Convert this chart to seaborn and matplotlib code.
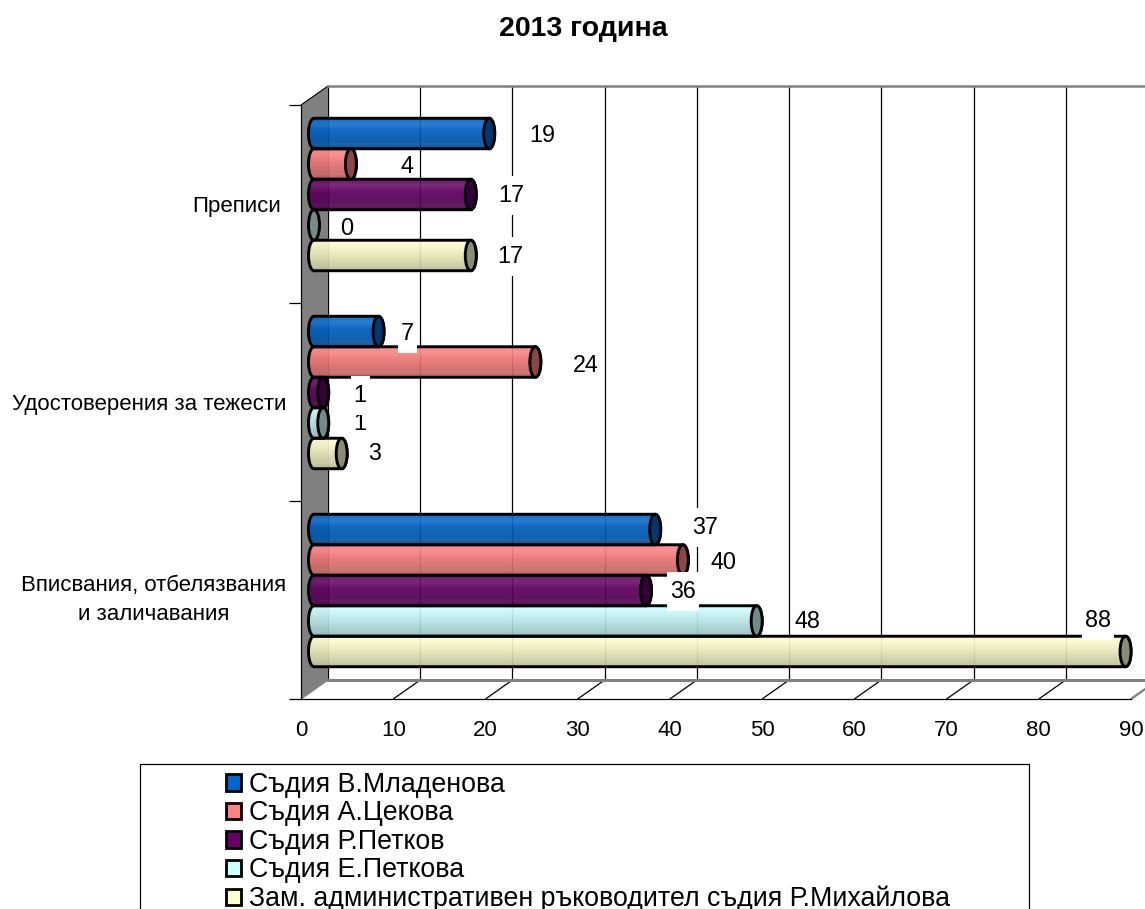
import numpy as np
import pandas as pd
import seaborn as sns
import matplotlib.pyplot as plt
from matplotlib.colors import to_rgb
from matplotlib.patches import Ellipse, PathPatch, Polygon, Rectangle
from matplotlib.path import Path

categories = ["Преписи", "Удостоверения за тежести", "Вписвания, отбелязвания\nи заличавания"]
judges = ["Съдия В.Младенова", "Съдия А.Цекова", "Съдия Р.Петков", "Съдия Е.Петкова",
          "Зам. административен ръководител съдия Р.Михайлова"]
mladenova = [19, 7, 37]
tsekova = [4, 24, 40]
r_petkov = [17, 1, 36]
e_petkova = [0, 1, 48]
mihaylova = [17, 3, 88]
colors = ["#0066CC", "#FF8080", "#660066", "#CCFFFF", "#FFFFCC"]
x_ticks = list(range(0, 100, 10))

# label shift from the bar end in pixels, one row per judge, one column per category
label_shift = [
    [(53, 2), (29, 2), (50, -2)],
    [(56, 2), (50, 3), (41, 2)],
    [(40, 1), (37, 3), (37, 1)],
    [(33, 4), (37, 1), (51, 1)],
    [(39, 1), (33, 0), (-28, -31)],
]
# these white label boxes sit behind the cylinders (judge, category)
labels_behind = [(1, 0), (3, 0), (3, 2)]

W, H = 1145, 909
FONT = ["Liberation Sans", "DejaVu Sans"]
PX_PER_UNIT = 830 / 90
CAP_RX = 5.5 / PX_PER_UNIT

sns.set_theme(style="white")
plt.rcParams["font.family"] = FONT


def px_axes(fig, left, top, right, bottom, zorder):
    ax = fig.add_axes([left / W, 1 - bottom / H, (right - left) / W, (bottom - top) / H], zorder=zorder)
    ax.patch.set_alpha(0)
    return ax


def label_box(x0, y0, width, height, mutation_size):
    """
    White box behind a data label, wider pad up and down than sideways (pixels).
    """
    l, r = x0 - 3, x0 + width + 3
    b, t = y0 - 8, y0 + height + 8
    return Path([(l, b), (r, b), (r, t), (l, t), (l, b)], closed=True)


def shading(color, n=60):
    """
    Vertical colour ramp for the cylinder body, light on top and darker below.
    """
    t = np.linspace(0, 1, n)
    rgb = np.array(to_rgb(color))
    shade = 1 - 0.27 * t ** 1.4
    glow = 0.09 * np.exp(-((t - 0.2) / 0.13) ** 2) + 0.05 * np.exp(-((t - 0.85) / 0.06) ** 2)
    img = np.zeros((n, 1, 4))
    for i in range(3):
        img[:, 0, i] = np.clip(rgb[i] * shade + glow * (1 - rgb[i] * shade), 0, 1)
    img[:, 0, 3] = 0.93
    return img


def draw_cylinder(ax, rect, color):
    w, y, h = rect.get_width(), rect.get_y(), rect.get_height()
    rect.set_facecolor("none")
    rect.set_edgecolor("none")
    ymid = y + h / 2
    if w > 0:
        theta = np.linspace(np.pi / 2, 3 * np.pi / 2, 30)
        left = np.column_stack([CAP_RX * np.cos(theta), ymid - h / 2 * np.sin(theta)])
        right = np.column_stack([w - CAP_RX * np.cos(theta), ymid + h / 2 * np.sin(theta)])
        verts = np.vstack([left, right, left[:1]])
        body = PathPatch(Path(verts, closed=True), facecolor="none", edgecolor="black", lw=2.1, zorder=3)
        ax.add_patch(body)
        im = ax.imshow(shading(color), extent=(-CAP_RX, w + CAP_RX, y + h, y), aspect="auto", zorder=2.9)
        im.set_clip_path(body)
    cap_color = tuple(c * 0.55 for c in to_rgb(color))
    ax.add_patch(Ellipse((w, ymid), 2 * CAP_RX, h, facecolor=cap_color, edgecolor="black", lw=2.1, zorder=3.1))


def main() -> None:
    df = pd.DataFrame({
        "category": categories * 5,
        "judge": [j for j in judges for _ in categories],
        "value": mladenova + tsekova + r_petkov + e_petkova + mihaylova,
    })

    fig = plt.figure(figsize=(W / 100, H / 100), dpi=100)

    # wall, floor joints and the legend frame, in figure pixels
    deco = px_axes(fig, 0, 0, W, H, 0)
    deco.set_xlim(0, W)
    deco.set_ylim(H, 0)
    deco.axis("off")
    deco.add_patch(Polygon([(301, 105), (328, 86), (328, 680), (301, 699)], facecolor="#808080", edgecolor="none"))
    deco.plot([301, 328], [105, 86], color="black", lw=0.8)
    for v in x_ticks:
        x = 301 + v * PX_PER_UNIT
        deco.plot([x, x + 27], [699, 680], color="#808080" if v in (0, 90) else "black", lw=1.6 if v == 90 else 0.9)
    deco.add_patch(Rectangle((140, 764), 889, 160, facecolor="none", edgecolor="black", lw=0.9))

    # back wall with the grid
    back = px_axes(fig, 328, 86, 328 + 830, 680, 1)
    back.set_xlim(0, 90)
    back.set_ylim(0, 1)
    back.set_xticks(x_ticks)
    back.set_yticks([])
    back.tick_params(axis="x", length=0, labelbottom=False)
    back.grid(axis="x", color="black", lw=0.9)
    back.spines["left"].set_visible(False)
    back.spines["right"].set_visible(False)
    back.spines["top"].set(color="#808080", lw=1.8)
    back.spines["bottom"].set(color="#808080", lw=2.2)

    # front axes carry the ticks and the tick labels
    front = px_axes(fig, 301, 105, 1131, 699, 2)
    front.set_xlim(0, 90)
    front.set_ylim(2.5, -0.5)
    front.set_xticks(x_ticks)
    front.set_yticks(range(3), categories, ha="right", multialignment="center", fontsize=16, linespacing=1.5)
    front.set_yticks([-0.5, 0.5, 1.5, 2.5], minor=True)
    front.tick_params(axis="x", length=8, width=0.9, color="black", labelsize=16, pad=7, labelcolor="black")
    front.tick_params(axis="y", which="major", length=0, pad=10.8, labelcolor="black")
    front.tick_params(axis="y", which="minor", length=8.5, width=0.9, color="black", left=True)
    front.yaxis.get_major_ticks()[0].set_pad(14.4)
    front.get_yticklabels()[2].set_va("center")
    front.grid(False)
    for side in ("top", "right"):
        front.spines[side].set_visible(False)
    for side in ("left", "bottom"):
        front.spines[side].set(color="black", lw=0.9)

    # cylinders, half way into the depth of the chart; the axes start two units
    # left of zero so the rounded bar ends are not cut
    ax = px_axes(fig, 314 - 2 * PX_PER_UNIT, 95.5, 314 + 830, 689.5, 3)
    sns.barplot(data=df, y="category", x="value", hue="judge", order=categories, hue_order=judges,
                palette=colors, width=0.77, gap=0, edgecolor="black", linewidth=2, ax=ax)
    ax.set_xlim(-2, 90)
    ylim = ax.get_ylim()

    sns.move_legend(ax, "upper left", bbox_to_anchor=(226 / W, 1 - 772 / H), bbox_transform=fig.transFigure,
                    frameon=False, title=None, fontsize=19.3, handlelength=0.56, handleheight=0.56,
                    handletextpad=0.3, labelspacing=0.09, borderpad=0, borderaxespad=0, labelcolor="black")
    for handle, color in zip(ax.get_legend().legend_handles, colors):
        handle.set(facecolor=color, edgecolor="black", linewidth=2)

    for s, container in enumerate(ax.containers):
        for c, rect in enumerate(container):
            draw_cylinder(ax, rect, colors[s])
            dx, dy = label_shift[s][c]
            z = 2.5 if (s, c) in labels_behind else 8 - s
            ax.annotate(str(int(rect.get_width())),
                        xy=(rect.get_width(), rect.get_y() + rect.get_height() / 2),
                        xytext=(dx, -dy), textcoords="offset pixels", ha="center", va="center",
                        fontsize=16.8, color="black", annotation_clip=False, zorder=z,
                        bbox=dict(boxstyle=label_box, facecolor="white", edgecolor="none"))

    ax.set_xlim(-2, 90)
    ax.set_ylim(ylim)
    ax.axis("off")
    ax.get_legend().set_visible(True)

    fig.text(583 / W, 1 - 29 / H, "2013 година", ha="center", va="center", fontsize=20.5, fontweight="bold", color="black")
    fig.savefig("out.png", dpi=100)


if __name__ == "__main__":
    main()
